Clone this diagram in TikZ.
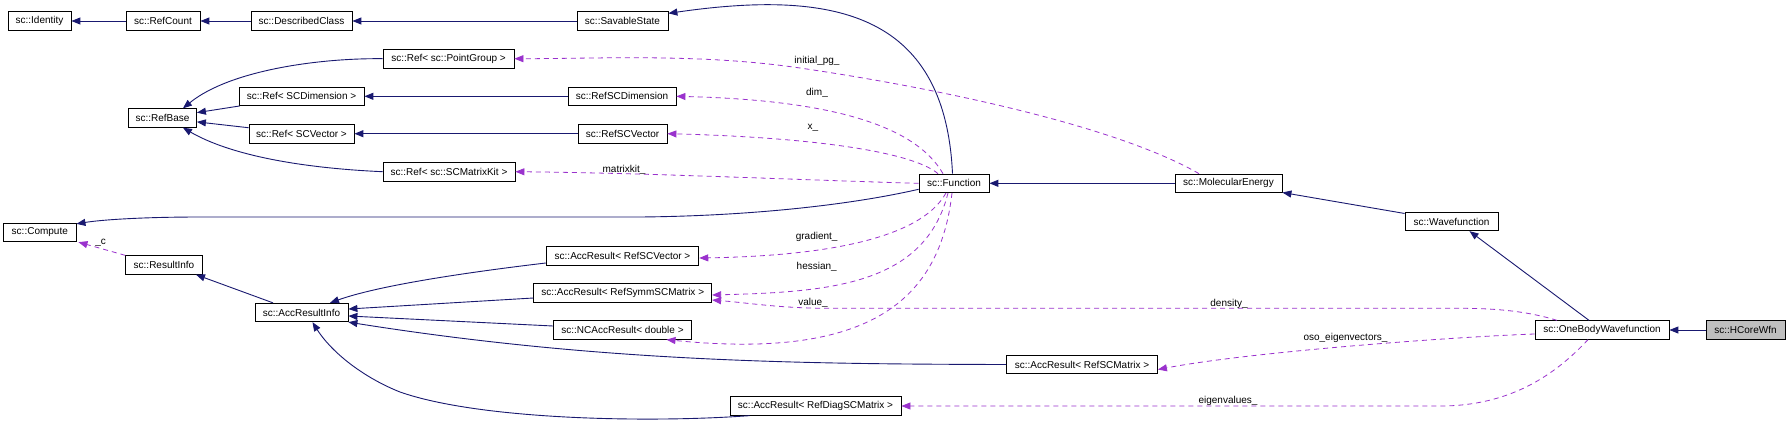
\documentclass[tikz,border=0pt]{standalone}
\usepackage{fontspec}
\setmainfont{Liberation Sans}
\usetikzlibrary{arrows.meta,calc}
\definecolor{inhblue}{RGB}{25,25,112}
\definecolor{usepurple}{RGB}{154,50,205}
\definecolor{boxgray}{RGB}{191,191,191}
\begin{document}
\begin{tikzpicture}[x=1pt,y=-1pt,
  cls/.style={draw=black, line width=0.8pt, inner sep=0pt, minimum height=18.5pt, font=\fontsize{10}{12}\selectfont, fill=white},
  inh/.style={draw=inhblue, line width=0.9pt, -{Triangle[length=9pt,width=7pt]}},
  use/.style={draw=usepurple, line width=0.8pt, dash pattern=on 5pt off 4pt, -{Triangle[length=9pt,width=7pt]}},
  lbl/.style={font=\fontsize{10}{12}\selectfont, inner sep=0pt}]
\useasboundingbox[fill=white] (0,0) rectangle (1786,426);

% nodes
\node[cls, minimum width=63pt] (identity) at (39.5,21) {sc::Identity};
\node[cls, minimum width=74pt] (refcount) at (163,21) {sc::RefCount};
\node[cls, minimum width=101pt] (describedclass) at (301.5,21) {sc::DescribedClass};
\node[cls, minimum width=91pt] (savablestate) at (622.5,21) {sc::SavableState};
\node[cls, minimum width=131pt] (refpg) at (448.5,58.7) {sc::Ref< sc::PointGroup >};
\node[cls, minimum width=68pt] (refbase) at (162.5,118) {sc::RefBase};
\node[cls, minimum width=125pt] (refscdim) at (301.5,96.3) {sc::Ref< SCDimension >};
\node[cls, minimum width=108pt] (rscdim) at (622,96.3) {sc::RefSCDimension};
\node[cls, minimum width=105pt] (refscvec) at (301.5,133.7) {sc::Ref< SCVector >};
\node[cls, minimum width=89pt] (rscvec) at (622.5,133.7) {sc::RefSCVector};
\node[cls, minimum width=132pt] (refkit) at (449,171.7) {sc::Ref< sc::SCMatrixKit >};
\node[cls, minimum width=70pt] (function) at (954,183.3) {sc::Function};
\node[cls, minimum width=107pt] (molecular) at (1228.5,183.3) {sc::MolecularEnergy};
\node[cls, minimum width=72.5pt] (compute) at (39.8,232.5) {sc::Compute};
\node[cls, minimum width=76.6pt] (resultinfo) at (164,265) {sc::ResultInfo};
\node[cls, minimum width=93pt] (accresultinfo) at (301.5,312.5) {sc::AccResultInfo};
\node[cls, minimum width=152.7pt] (arvec) at (622.5,256) {sc::AccResult< RefSCVector >};
\node[cls, minimum width=178pt] (arsymm) at (622.7,293) {sc::AccResult< RefSymmSCMatrix >};
\node[cls, minimum width=138pt] (ncacc) at (622.5,330) {sc::NCAccResult< double >};
\node[cls, minimum width=151pt] (arscm) at (1082,364.5) {sc::AccResult< RefSCMatrix >};
\node[cls, minimum width=171pt] (ardiag) at (815.5,406) {sc::AccResult< RefDiagSCMatrix >};
\node[cls, minimum width=93pt] (wavefunction) at (1451.5,221.5) {sc::Wavefunction};
\node[cls, minimum width=134pt] (onebody) at (1602,330) {sc::OneBodyWavefunction};
\node[cls, minimum width=79pt, fill=boxgray] (hcore) at (1745.5,330) {sc::HCoreWfn};

% inheritance / solid edges
\draw[inh] (refcount) -- (identity);
\draw[inh] (describedclass) -- (refcount);
\draw[inh] (savablestate) -- (describedclass);
\draw[inh] ([xshift=-1.5pt]function.north) .. controls (945,10) and (830,-10) .. ([yshift=-2pt]savablestate.north east);
\draw[inh] (refpg.west) .. controls (320,58) and (230,70) .. ([xshift=-14pt]refbase.north east);
\draw[inh] (refscdim) -- (refbase);
\draw[inh] (refscvec) -- (refbase);
\draw[inh] (refkit.west) .. controls (300,168) and (230,155) .. ([xshift=-14pt]refbase.south east);
\draw[inh] (rscdim) -- (refscdim);
\draw[inh] (rscvec) -- (refscvec);
\draw[inh] (molecular) -- (function);
\draw[inh] ([yshift=-6pt]function.west) .. controls (850,205) and (750,216) .. (640,217) -- (200,217) .. controls (140,217) and (100,220) .. ([yshift=-1pt]compute.north east);
\draw[inh] ([xshift=-28.5pt]accresultinfo.north) -- ([xshift=32pt]resultinfo.south);
\draw[inh] ([yshift=-7pt]arvec.west) .. controls (470,272) and (380,285) .. ([xshift=28.5pt]accresultinfo.north);
\draw[inh] ([yshift=-5pt]arsymm.west) -- ([yshift=3.5pt]accresultinfo.east);
\draw[inh] ([yshift=4pt]ncacc.west) -- ([yshift=-3.5pt]accresultinfo.east);
\draw[inh] (arscm.west) .. controls (800,364) and (600,362) .. (accresultinfo.south east);
\draw[inh] ([xshift=-66pt]ardiag.south) .. controls (650,423) and (480,420) .. (400,392) .. controls (360,376) and (330,350) .. ([xshift=11pt]accresultinfo.south);
\draw[inh] (wavefunction) -- (molecular);
\draw[inh] ([xshift=-13pt]onebody.north) -- ([xshift=18pt]wavefunction.south);
\draw[inh] (hcore) -- (onebody);

% usage / dashed edges
\draw[use] ([xshift=-29.5pt]molecular.north) .. controls (1120,128) and (950,90) .. (800,68) .. controls (700,53.3) and (600,58.7) .. (refpg.east);
\draw[use] ([xshift=-11pt]function.north) .. controls (915,125) and (830,100) .. (rscdim.east);
\draw[use] ([xshift=-16pt]function.north) .. controls (910,150) and (800,137) .. (rscvec.east);
\draw[use] (function.west) .. controls (800,180) and (650,173) .. (refkit.east);
\draw[use] ([xshift=-8pt]function.south) .. controls (920,240) and (820,256) .. ([yshift=-2pt]arvec.east);
\draw[use] ([xshift=-6pt]function.south) .. controls (925,285) and (830,292) .. ([yshift=-2pt]arsymm.east);
\draw[use] ([xshift=-2pt]function.south) .. controls (940,300) and (870,360) .. ([xshift=44pt]ncacc.south);
\draw[use] ([xshift=-45pt]onebody.north) .. controls (1530,312) and (1500,308.3) .. (1460,308.3) -- (830,308.3) .. controls (780,308.3) and (750,303) .. ([yshift=-7pt]arsymm.east);
\draw[use] ([yshift=-4pt]onebody.west) .. controls (1450,337) and (1250,352) .. ([yshift=-5pt]arscm.east);
\draw[use] ([xshift=-14pt]onebody.south) .. controls (1555,375) and (1510,406) .. (1440,406) -- (ardiag.east);
\draw[use] (resultinfo.north west) -- ([xshift=2pt]compute.south east);

% labels
\node[lbl] (lpg) at (817,61) {initial\_pg\_};
\node[lbl] (ldim) at (817,93) {dim\_};
\node[lbl] (lx) at (813,128) {x\_};
\node[lbl] (lkit) at (624,169.5) {matrixkit\_};
\node[lbl] (lgrad) at (816.7,236.7) {gradient\_};
\node[lbl] (lhess) at (816.7,266.7) {hessian\_};
\node[lbl] (lval) at (813,302.7) {value\_};
\node[lbl] (ldens) at (1229,303.5) {density\_};
\node[lbl] (loso) at (1345.5,338.3) {oso\_eigenvectors\_};
\node[lbl] (leig) at (1228,400.5) {eigenvalues\_};
\node[lbl] (lc) at (100.7,242.7) {\_c};
\end{tikzpicture}
\end{document}
